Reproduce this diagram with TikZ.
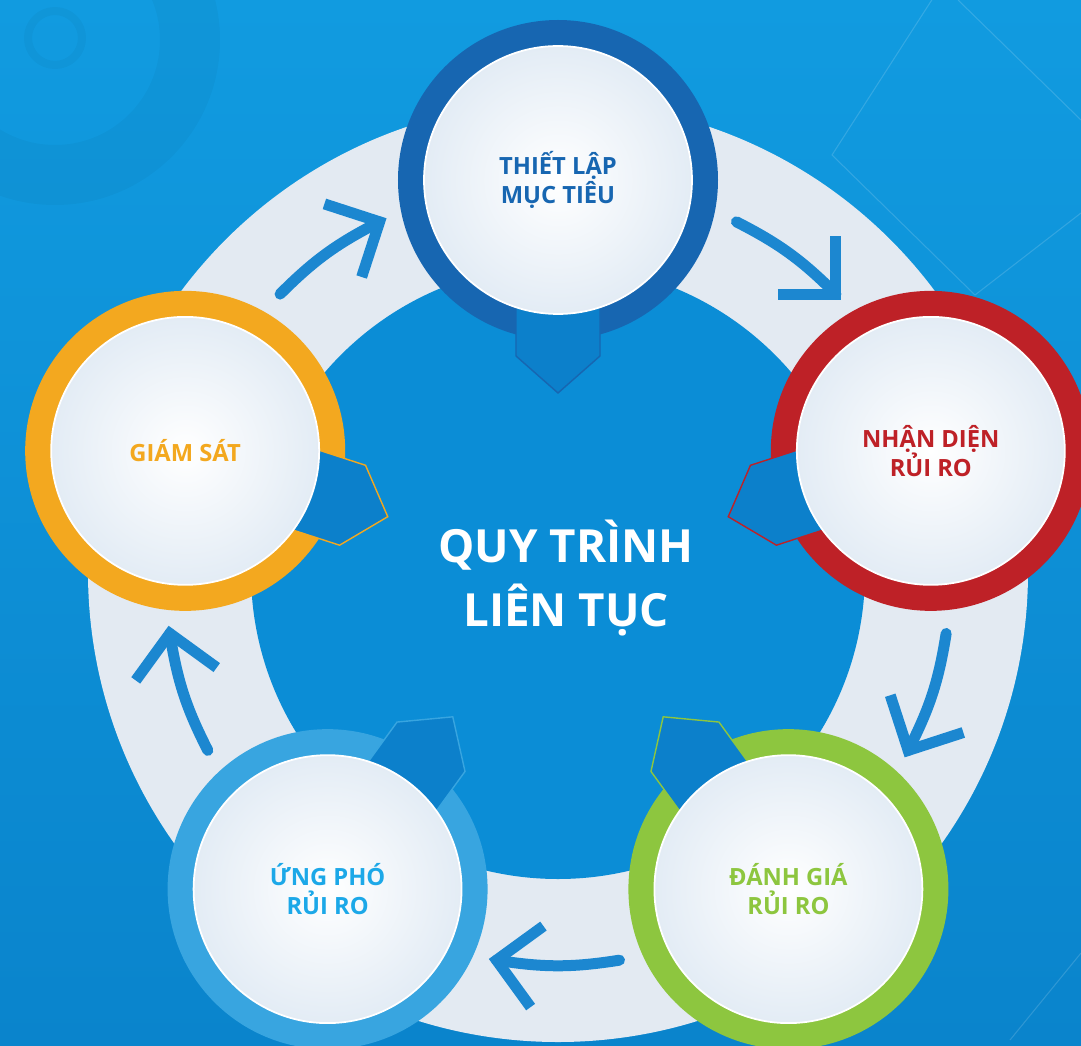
\documentclass[tikz,border=0pt]{standalone}
\usepackage{fontspec}
\setmainfont{Open Sans}
\usetikzlibrary{calc}
\definecolor{CycBackTop}{HTML}{119BE0}
\definecolor{CycBackBot}{HTML}{0A84CC}
\definecolor{CycDisc}{HTML}{0B8DD6}
\definecolor{CycBand}{HTML}{E3EAF2}
\definecolor{CycNavy}{HTML}{1766B1}
\definecolor{CycRed}{HTML}{BE2127}
\definecolor{CycGreen}{HTML}{8DC63F}
\definecolor{CycSky}{HTML}{38A5E0}
\definecolor{CycSkyText}{HTML}{1CA8E8}
\definecolor{CycOrange}{HTML}{F3A81F}
\definecolor{CycArrow}{HTML}{1C87D0}
\definecolor{CycTab}{HTML}{0C80CB}
\definecolor{CycInner}{HTML}{E3ECF5}
\tikzset{
  decor/.style={draw=black, opacity=0.03},
  glint/.style={draw=white, opacity=0.15, line width=0.6pt},
  tab/.style={fill=CycTab, line width=0.8pt, line join=miter},
  cycarrow/.style={draw=CycArrow, line width=0.22cm, line join=miter},
  stagetext/.style={circle, minimum size=5.36cm, inner sep=0pt, align=center,
                    draw=white, line width=1pt, inner color=white, outer color=CycInner,
                    font=\bfseries\fontsize{13.5}{16.5}\selectfont},
  hubtext/.style={align=center, text=white, font=\bfseries\fontsize{26}{36}\selectfont},
}
\begin{document}
\begin{tikzpicture}[x=0.02cm,y=0.02cm]
  % backdrop
  \shade[top color=CycBackTop, bottom color=CycBackBot] (-558,-473) rectangle (523,572);
  \useasboundingbox (-558,-473) rectangle (523,572);
  \draw[decor, line width=0.16cm] (-503,534) circle (27);
  \draw[decor, line width=1.2cm] (-503,532) circle (135);
  \draw[glint] (377,577) -- (274,417) -- (417,277) -- (523,359);
  \draw[glint] (400,572) -- (523,452);
  \draw[glint] (523,-381) -- (452,-468);
  % ring band
  \fill[CycBand] (0,0) circle (470);
  \fill[CycDisc] (0,0) circle (307);
  % arrows round the band
  \foreach \c [count=\i] in {54,-18,-90,-162,126} {
    \coordinate (s\i) at (\c+9:393);
    \coordinate (t\i) at (\c-9:393);
    \draw[cycarrow, line cap=round] (s\i) to[bend left=9] (t\i);
    \draw[cycarrow] ($(t\i)+(\c+126:58)$) -- (t\i) -- ($(t\i)+(\c+36:58)$);
  }
  % coloured rings and tabs
  \foreach \ang/\col in {90/CycNavy, 18/CycRed, -54/CycGreen, -126/CycSky, 162/CycOrange}
    \fill[\col] (\ang:392) circle (160);
  \foreach \ang/\col in {90/CycNavy, 18/CycRed, -54/CycGreen, -126/CycSky, 162/CycOrange} {
    \begin{scope}[shift={(\ang:392)}, rotate=\ang+180]
      \filldraw[tab, draw=\col] (100,-42) -- (176,-42) -- (213,0) -- (176,42) -- (100,42) -- cycle;
    \end{scope}
  }
  % stages
  \node[stagetext, text=CycNavy] (muctieu) at (90:392) {THIẾT LẬP\\MỤC TIÊU};
  \node[stagetext, text=CycRed] (nhandien) at (18:392) {NHẬN DIỆN\\RỦI RO};
  \node[stagetext, text=CycGreen] (danhgia) at (-54:392) {ĐÁNH GIÁ\\RỦI RO};
  \node[stagetext, text=CycSkyText] (ungpho) at (-126:392) {ỨNG PHÓ\\RỦI RO};
  \node[stagetext, text=CycOrange] (giamsat) at (162:392) {GIÁM SÁT};
  \node[hubtext] (quytrinh) at (8,-6) {QUY TRÌNH\\LIÊN TỤC};
\end{tikzpicture}
\end{document}
